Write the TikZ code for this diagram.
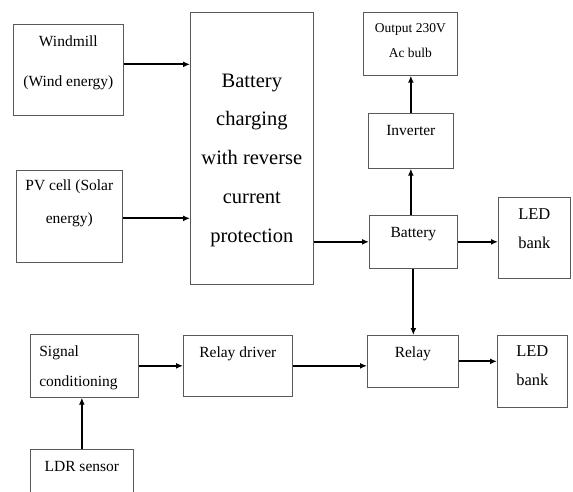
\documentclass[tikz,border=0pt]{standalone}
\usepackage{fontspec}
\setmainfont{Liberation Serif}
\usetikzlibrary{arrows.meta, calc}

\begin{document}
\begin{tikzpicture}[x=1pt, y=-1pt, every node/.style={draw=black!65, line width=0.7pt, inner sep=0pt, anchor=north west, align=center, font=\fontsize{15.5}{30}\selectfont}, arr/.style={-{Latex[length=7pt, width=6pt]}, line width=2pt}]
    \useasboundingbox (0,0) rectangle (573,492);
    \clip (0,0) rectangle (573,492);
    \node (wind) [minimum width=110pt, text height=62pt, text depth=29pt, font=\fontsize{15.5}{40}\selectfont] at (13,24) {Windmill\\(Wind energy)};
    \node (pv) [minimum width=106pt, text height=52.7pt, text depth=39.3pt, font=\fontsize{15.5}{33}\selectfont] at (16,170) {PV cell (Solar\\energy)};
    \node (charge) [minimum width=123pt, text height=230pt, text depth=42pt, font=\fontsize{20.5}{38.8}\selectfont] at (190,12) {Battery\\charging\\with reverse\\current\\protection};
    \node (output) [minimum width=94pt, text height=45.3pt, text depth=17.7pt, font=\fontsize{13.5}{25.6}\selectfont] at (363,12) {Output 230V\\Ac bulb};
    \node (inverter) [minimum width=85pt, text height=22pt, text depth=33pt] at (368,113) {Inverter};
    \node (battery) [minimum width=88pt, text height=22.3pt, text depth=30.7pt] at (369,215) {Battery};
    \node (led1) [minimum width=72pt, text height=51.3pt, text depth=29.7pt, font=\fontsize{16.5}{29}\selectfont] at (498,197) {LED\\bank};
    \node (signal) [minimum width=108pt, text width=90pt, align=left, text height=22pt, text depth=41pt] at (30,334) {Signal\\conditioning};
    \node (driver) [minimum width=109pt, text height=21.7pt, text depth=39.3pt] at (183,335) {Relay driver};
    \node (relay) [minimum width=91pt, text height=21.7pt, text depth=30.3pt] at (367,335) {Relay};
    \node (led2) [minimum width=70pt, text height=50pt, text depth=22pt, font=\fontsize{16.5}{29}\selectfont] at (497,335) {LED\\bank};
    \node (ldr) [minimum width=103pt, text height=21.7pt, text depth=60pt] at (30,449) {LDR sensor};

    % Connections
    \draw[arr] ([yshift=5.5pt]wind.east) -- ([yshift=5.5pt]wind.east -| charge.west);
    \draw[arr] ([yshift=-2pt]pv.east) -- ([yshift=-2pt]pv.east -| charge.west);
    \draw[arr] (charge.east |- battery.west) -- (battery.west);
    \draw[arr] (battery.east) -- (battery.east -| led1.west);
    \draw[arr] (battery.north -| inverter.south) -- (inverter.south);
    \draw[arr] (inverter.north) -- (inverter.north |- output.south);
    \draw[arr] (battery.south) -- (battery.south |- relay.north);
    \draw[arr] (signal.east) -- (signal.east -| driver.west);
    \draw[arr] (driver.east) -- (driver.east -| relay.west);
    \draw[arr] (relay.east) -- (relay.east -| led2.west);
    \draw[arr] (ldr.north) -- (ldr.north |- signal.south);
\end{tikzpicture}
\end{document}
